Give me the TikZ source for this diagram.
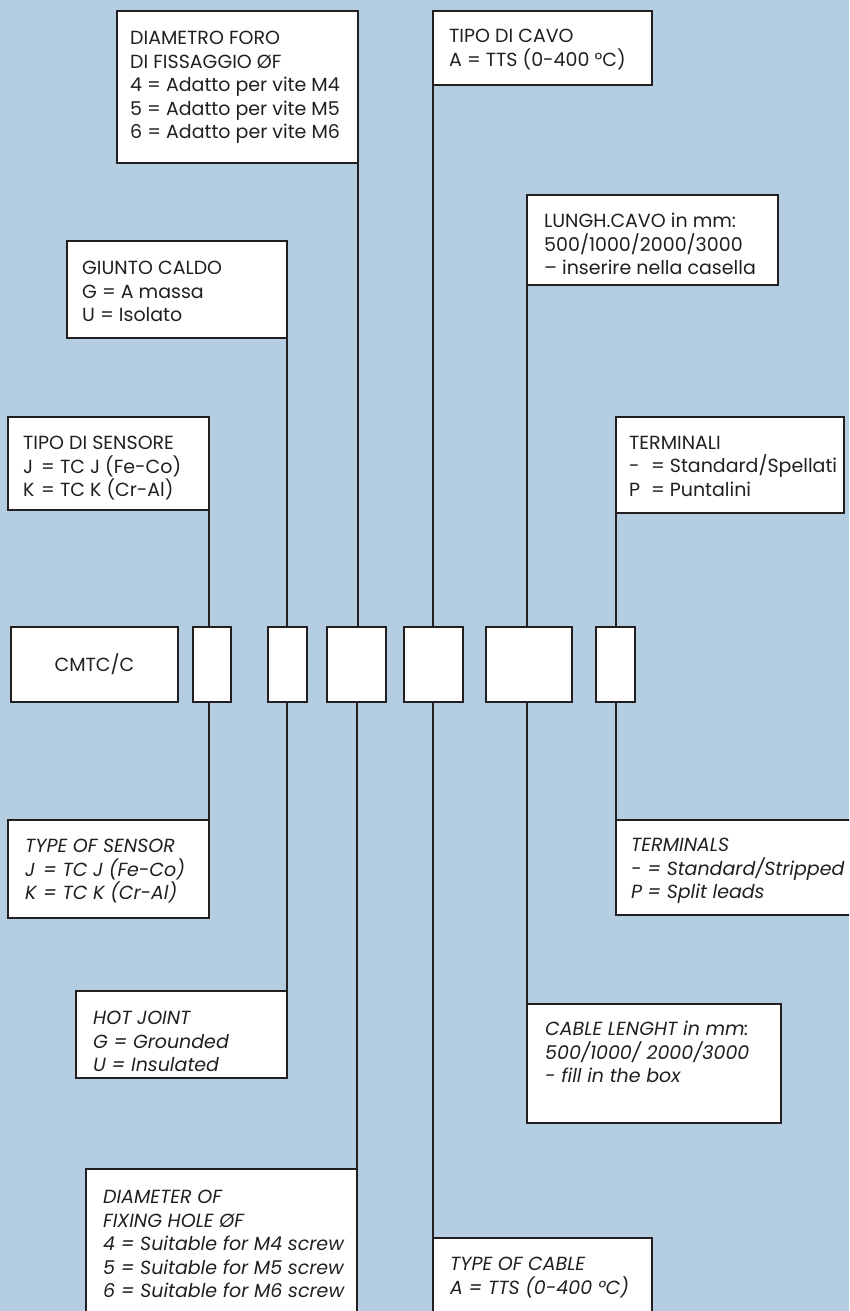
\documentclass[tikz,border=0pt]{standalone}
\usepackage{fontspec}
\setmainfont{Poppins}
\definecolor{bg}{RGB}{181,205,224}
\definecolor{ink}{RGB}{35,31,32}
\begin{document}
\begin{tikzpicture}[x=1pt,y=-1pt,
  lbl/.style={draw=ink,fill=white,line width=1.4pt,rectangle,inner sep=0pt,outer sep=0pt,anchor=north west},
  txt/.style={anchor=north west,inner sep=0pt,align=left,text=ink,font=\fontsize{19}{23.5}\selectfont},
  itxt/.style={anchor=north west,inner sep=0pt,align=left,text=ink,font=\fontsize{19}{23.5}\selectfont\itshape},
  wire/.style={draw=ink,line width=1.4pt}]
\fill[bg] (0,0) rectangle (849,1311);
\useasboundingbox (0,0) rectangle (849,1311);
\clip (0,0) rectangle (849,1311);
% upper labels
\node[lbl,minimum width=241pt,minimum height=152pt] (diait) at (117,11) {};
\node[lbl,minimum width=219pt,minimum height=74pt] (cavoit) at (433,11) {};
\node[lbl,minimum width=251pt,minimum height=90pt] (lungit) at (527,195) {};
\node[lbl,minimum width=220pt,minimum height=97pt] (giuntoit) at (67,241) {};
\node[lbl,minimum width=201pt,minimum height=93pt] (sensit) at (8,417) {};
\node[lbl,minimum width=228pt,minimum height=96pt] (termit) at (616,417) {};
% code row
\node[lbl,minimum width=167pt,minimum height=75pt] (cmtc) at (11,627) {};
\node[txt,anchor=center] (cmtctxt) at (cmtc.center) {CMTC/C};
\node[lbl,minimum width=38pt,minimum height=75pt] (b1) at (193,627) {};
\node[lbl,minimum width=39pt,minimum height=75pt] (b2) at (268,627) {};
\node[lbl,minimum width=59pt,minimum height=75pt] (b3) at (327,627) {};
\node[lbl,minimum width=59pt,minimum height=75pt] (b4) at (404,627) {};
\node[lbl,minimum width=86pt,minimum height=75pt] (b5) at (486,627) {};
\node[lbl,minimum width=39pt,minimum height=75pt] (b6) at (596,627) {};
% lower labels
\node[lbl,minimum width=201pt,minimum height=98pt] (sensen) at (8,820) {};
\node[lbl,minimum width=240pt,minimum height=95pt] (termen) at (616,820) {};
\node[lbl,minimum width=211pt,minimum height=87pt] (hoten) at (76,991) {};
\node[lbl,minimum width=254pt,minimum height=119pt] (caben) at (527,1004) {};
\node[lbl,minimum width=271pt,minimum height=160pt] (diaen) at (86,1169) {};
\node[lbl,minimum width=219pt,minimum height=90pt] (cableen) at (433,1238) {};
% wires
\draw[wire] (sensit.south east) -- (sensit.south east |- b1.north);
\draw[wire] (giuntoit.south east) -- (giuntoit.south east |- b2.north);
\draw[wire] (diait.south east) -- (diait.south east |- b3.north);
\draw[wire] (cavoit.south west) -- (cavoit.south west |- b4.north);
\draw[wire] (lungit.south west) -- (lungit.south west |- b5.north);
\draw[wire] (termit.south west) -- (termit.south west |- b6.north);
\draw[wire] (sensen.north east |- b1.south) -- (sensen.north east);
\draw[wire] (hoten.north east |- b2.south) -- (hoten.north east);
\draw[wire] (diaen.north east |- b3.south) -- (diaen.north east);
\draw[wire] (cableen.north west |- b4.south) -- (cableen.north west);
\draw[wire] (caben.north west |- b5.south) -- (caben.north west);
\draw[wire] (termen.north west |- b6.south) -- (termen.north west);
% texts upper
\node[txt] (diaitt) at (130,31) {DIAMETRO FORO\\DI FISSAGGIO ØF\\4 = Adatto per vite M4\\5 = Adatto per vite M5\\6 = Adatto per vite M6};
\node[txt] (cavoitt) at (449,29) {TIPO DI CAVO\\A = TTS (0-400 °C)};
\node[txt] (lungitt) at (544,213) {LUNGH.CAVO in mm:\\500/1000/2000/3000\\– inserire nella casella};
\node[txt] (giuntoitt) at (82,261) {GIUNTO CALDO\\G = A massa\\U = Isolato};
\node[txt] (sensitt) at (23,436) {TIPO DI SENSORE\\\makebox[0.95em][l]{J}= TC J (Fe-Co)\\\makebox[0.95em][l]{K}= TC K (Cr-Al)};
\node[txt] (termitt) at (629,436) {TERMINALI\\\makebox[1.15em][l]{-}= Standard/Spellati\\\makebox[1.15em][l]{P}= Puntalini};
% texts lower
\node[itxt] (sensent) at (25,839) {TYPE OF SENSOR\\\makebox[0.95em][l]{J}= TC J (Fe-Co)\\\makebox[0.95em][l]{K}= TC K (Cr-Al)};
\node[itxt] (termett) at (631,838) {TERMINALS\\\makebox[0.85em][l]{-}= Standard/Stripped\\\makebox[0.85em][l]{P}= Split leads};
\node[itxt] (hotent) at (93,1011) {HOT JOINT\\G = Grounded\\U = Insulated};
\node[itxt] (cabent) at (545,1021) {CABLE LENGHT in mm:\\500/1000/ 2000/3000\\- fill in the box};
\node[itxt] (diaent) at (103,1190) {DIAMETER OF\\FIXING HOLE ØF\\4 = Suitable for M4 screw\\5 = Suitable for M5 screw\\6 = Suitable for M6 screw};
\node[itxt] (cableent) at (450,1257) {TYPE OF CABLE\\A = TTS (0-400 °C)};
\end{tikzpicture}
\end{document}
